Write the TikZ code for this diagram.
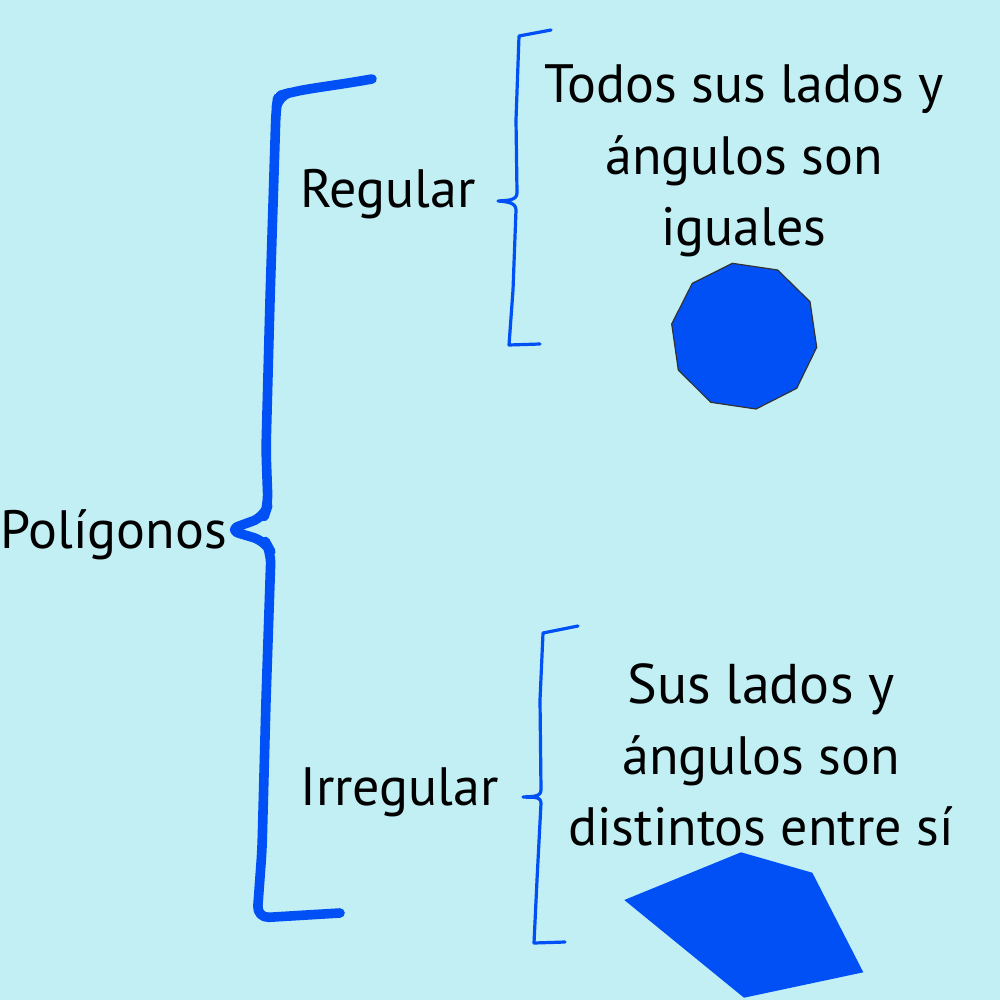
\documentclass[tikz,border=0pt]{standalone}
\usepackage{fontspec}
\setmainfont{PT Sans}
\definecolor{bg}{HTML}{C1EFF4}
\definecolor{bl}{HTML}{0050F5}
\begin{document}
\begin{tikzpicture}[x=0.5pt,y=-0.5pt,
  bigb/.style={draw=bl,line width=4.8pt,line cap=round,line join=round},
  smallb/.style={draw=bl,line width=1.6pt,line cap=round,line join=round},
  lbl/.style={font=\fontsize{27}{35.5}\selectfont,inner sep=0pt,text=black},
  desc/.style={lbl,align=center}]
\fill[bg] (0,0) rectangle (1000,1000);
\useasboundingbox (0,0) rectangle (1000,1000);
% labels
\node[lbl,anchor=base west] (polig) at (0,548) {Polígonos};
\node[lbl,anchor=base west] (reg) at (300,207) {Regular};
\node[lbl,anchor=base west] (irr) at (300,805) {Irregular};
\node[desc,anchor=base] (dreg) at (744,245) {Todos sus lados y\\ángulos son\\iguales};
\node[desc,anchor=base] (dirr) at (761,845) {\fontsize{28}{35.5}\selectfont Sus lados y\\ángulos son\\distintos entre sí};
% big bracket
\coordinate (bigtip) at (228,530);
\draw[bigb,rounded corners=6pt] (372,79) to[out=190,in=10] (292,92) -- (278,96) -- (276,110) -- (270,300) -- (266,450) -- (268,505) -- (264,517) -- (bigtip) -- (265,541) -- (271,552) -- (266,700) -- (262,850) -- (257,918) -- (340,913);
% regular bracket
\coordinate (regtip) at (498,201);
\draw[smallb] (551,30) -- (519,36) -- (516,120) -- (517,193) to[out=-90,in=5] (regtip) to[out=-5,in=90] (516,210) -- (513,290) -- (509,345) -- (540,344);
% irregular bracket
\coordinate (irrtip) at (523,797);
\draw[smallb] (578,626) -- (543,633) -- (540,700) -- (541,790) to[out=-90,in=5] (irrtip) to[out=-5,in=90] (541,803) -- (537,880) -- (534,943) -- (565,942);
% decagon
\draw[fill=bl,draw=black!80,line width=0.6pt,line join=round] (732.3,263.3) -- (777.7,270) -- (810,301.7) -- (816.7,347.3) -- (796.7,388.3) -- (756,409) -- (710.7,402.3) -- (678.3,370) -- (671.7,324) -- (692.3,283.3) -- cycle;
% pentagon
\fill[bl] (741,852.3) -- (812.3,872.7) -- (863.3,972.3) -- (744,997.7) -- (624.3,900) -- cycle;
\end{tikzpicture}
\end{document}
